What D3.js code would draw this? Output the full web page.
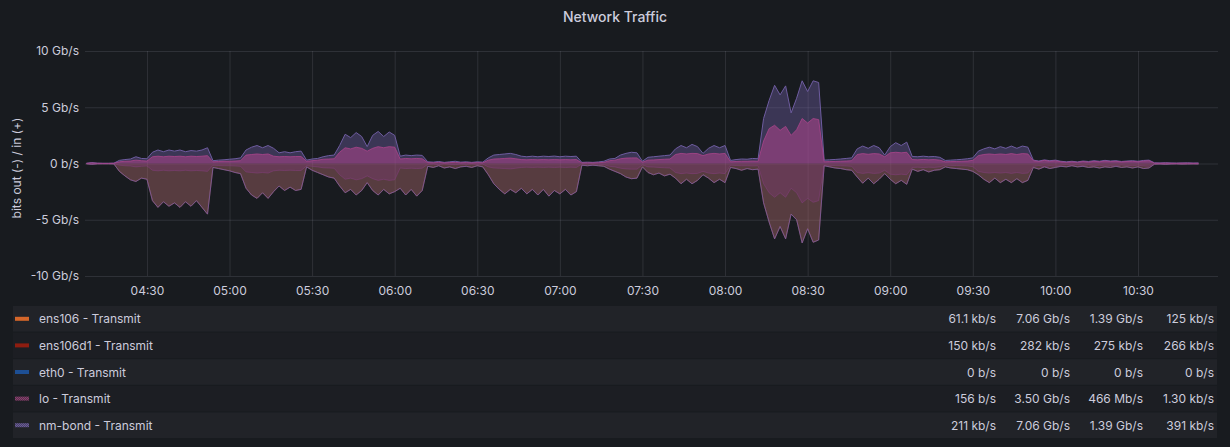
<!DOCTYPE html>
<html>
<head>
<meta charset="utf-8">
<script src="https://cdn.jsdelivr.net/npm/d3@7"></script>
<style>
  html, body { margin: 0; padding: 0; background: #181b1f; }
  svg { display: block; font-family: Inter, "Noto Sans", sans-serif; }
</style>
</head>
<body>
<svg id="chart" width="1230" height="447"></svg>
<script>
// ---- samples: Gb/s, one every 2 minutes starting 04:08 ----
const sampleStart = new Date(2024, 0, 1, 4, 8);
const sampleStepMinutes = 2;

// nm-bond receive (drawn above zero)
const nmBondRx = [
  0.02,0.08,0.03,0.02,0.02,0.03,
  0.28,0.35,0.4,0.6,0.45,0.42,
  1.0,1.2,1.05,1.2,1.1,1.2,1.05,1.15,1.1,1.2,1.4,
  0.25,0.3,0.33,0.38,0.42,0.5,
  1.2,1.45,1.6,1.4,1.6,1.35,
  0.95,1.05,0.95,1.05,1.1,
  0.3,0.4,0.45,0.6,0.7,0.75,
  1.6,2.6,2.3,2.75,2.4,
  1.5,
  2.5,2.85,2.4,2.8,2.5,
  0.65,0.75,0.7,0.75,0.72,
  0.15,0.12,0.18,0.1,0.15,0.2,0.12,0.15,0.1,0.15,0.12,
  0.5,0.75,0.8,0.85,0.9,0.8,0.65,0.6,0.65,0.6,0.65,0.62,0.66,0.6,0.65,0.62,0.65,
  0.1,0.12,0.1,0.14,0.2,
  0.4,0.45,0.75,0.9,1.0,0.95,
  0.2,
  0.55,0.6,0.65,0.7,0.75,
  1.3,1.6,1.4,1.7,1.5,
  0.9,
  1.35,1.6,1.4,1.6,
  0.27,0.35,0.4,0.38,0.45,0.42,
  4.0,5.6,6.95,6.1,6.9,4.5,5.8,7.35,6.4,7.35,7.2,
  0.3,0.33,0.36,0.4,0.45,0.5,
  1.3,1.55,1.35,1.6,1.4,
  0.75,
  1.5,1.85,1.6,1.9,
  0.62,0.6,0.65,0.6,0.62,0.55,
  0.27,0.3,0.33,0.37,0.42,0.5,
  1.1,1.3,1.45,1.3,1.5,1.35,1.55,1.35,1.55,1.45,
  0.3,0.22,0.32,0.25,0.3,0.2,0.15,0.2,0.14,0.22,0.18,0.25,0.2,0.28,0.22,0.25,0.18,0.22,0.25,0.2,0.27,0.3,
  0.06,0.05,0.07,0.05,0.04,0.05,0.06,0.04,0.05
];

// lo receive (drawn above zero)
const loRx = [
  0.01,0.05,0.02,0.01,0.01,0.02,
  0.15,0.2,0.22,0.3,0.25,0.22,
  0.6,0.65,0.6,0.65,0.62,0.65,0.6,0.65,0.62,0.65,0.7,
  0.15,0.18,0.2,0.2,0.22,0.25,
  0.75,0.8,0.85,0.8,0.85,0.65,
  0.6,0.62,0.6,0.62,0.62,
  0.2,0.25,0.3,0.38,0.4,0.42,
  1.0,1.4,1.3,1.45,1.35,
  1.1,
  1.35,1.5,1.4,1.5,1.45,
  0.4,0.45,0.42,0.45,0.42,
  0.08,0.06,0.1,0.05,0.08,0.1,0.06,0.08,0.05,0.08,0.06,
  0.3,0.4,0.42,0.45,0.48,0.42,0.35,0.33,0.35,0.33,0.35,0.33,0.35,0.33,0.35,0.33,0.35,
  0.05,0.06,0.05,0.07,0.1,
  0.25,0.3,0.42,0.48,0.5,0.5,
  0.12,
  0.3,0.32,0.35,0.38,0.4,
  0.8,0.9,0.85,0.9,0.88,
  0.7,
  0.85,0.9,0.85,0.9,
  0.15,0.18,0.2,0.2,0.22,0.2,
  2.0,3.1,3.4,2.95,3.3,2.5,3.0,4.0,3.6,4.0,3.9,
  0.15,0.17,0.18,0.2,0.22,0.25,
  0.8,0.88,0.82,0.88,0.85,
  0.6,
  0.95,1.0,0.95,1.0,
  0.35,0.33,0.36,0.33,0.35,0.3,
  0.15,0.17,0.18,0.2,0.22,0.28,
  0.7,0.8,0.85,0.8,0.85,0.8,0.88,0.8,0.88,0.85,
  0.25,0.18,0.28,0.2,0.25,0.15,0.1,0.15,0.1,0.18,0.12,0.2,0.15,0.22,0.18,0.2,0.14,0.18,0.2,0.15,0.22,0.25,
  0.03,0.02,0.04,0.02,0.02,0.03,0.03,0.02,0.02
];

// lo transmit (drawn below zero)
const loTx = [
  0.01,0.05,0.02,0.01,0.01,0.02,
  0.15,0.2,0.22,0.3,0.25,0.22,
  0.6,0.65,0.6,0.65,0.62,0.65,0.6,0.65,0.62,0.65,0.7,
  0.15,0.18,0.2,0.2,0.22,0.25,
  0.75,0.8,0.85,0.8,0.85,0.65,
  0.6,0.62,0.6,0.62,0.62,
  0.2,0.25,0.3,0.38,0.4,0.42,
  1.0,1.4,1.3,1.45,1.35,
  1.1,
  1.35,1.5,1.4,1.5,1.45,
  0.4,0.45,0.42,0.45,0.42,
  0.08,0.06,0.1,0.05,0.08,0.1,0.06,0.08,0.05,0.08,0.06,
  0.3,0.4,0.42,0.45,0.48,0.42,0.35,0.33,0.35,0.33,0.35,0.33,0.35,0.33,0.35,0.33,0.35,
  0.05,0.06,0.05,0.07,0.1,
  0.25,0.3,0.42,0.48,0.5,0.5,
  0.12,
  0.3,0.32,0.35,0.38,0.4,
  0.8,0.9,0.85,0.9,0.88,
  0.7,
  0.85,0.9,0.85,0.9,
  0.15,0.18,0.2,0.2,0.22,0.2,
  1.8,2.6,3.0,2.6,3.0,2.2,2.6,3.5,3.1,3.45,3.3,
  0.15,0.17,0.18,0.2,0.22,0.25,
  0.8,0.88,0.82,0.88,0.85,
  0.6,
  0.95,1.0,0.95,1.0,
  0.35,0.33,0.36,0.33,0.35,0.3,
  0.15,0.17,0.18,0.2,0.22,0.28,
  0.7,0.8,0.85,0.8,0.85,0.8,0.88,0.8,0.88,0.85,
  0.25,0.18,0.28,0.2,0.25,0.15,0.1,0.15,0.1,0.18,0.12,0.2,0.15,0.22,0.18,0.2,0.14,0.18,0.2,0.15,0.22,0.25,
  0.03,0.02,0.04,0.02,0.02,0.03,0.03,0.02,0.02
];

// nm-bond transmit (drawn below zero)
const nmBondTx = [
  0.03,0.08,0.03,0.03,0.03,0.04,
  0.7,1.1,1.45,1.6,1.3,1.4,
  3.3,3.9,3.4,3.8,3.5,3.9,3.4,3.8,3.3,3.9,4.5,
  0.35,0.45,0.55,0.65,0.8,0.9,
  2.2,2.8,3.1,2.6,3.1,2.5,
  2.0,2.4,2.1,2.4,2.3,
  0.3,0.6,0.8,1.0,1.2,1.3,
  2.0,2.6,2.3,2.8,2.4,
  1.7,
  2.4,2.8,2.3,2.7,2.5,
  2.2,2.8,2.3,2.9,2.4,
  0.25,0.35,0.2,0.4,0.3,0.45,0.3,0.25,0.35,0.2,0.3,
  1.0,1.8,2.3,2.7,2.3,2.6,2.2,2.7,2.3,2.8,2.3,2.9,2.4,2.7,2.3,2.8,2.5,
  0.15,0.2,0.15,0.2,0.25,
  0.5,0.7,0.9,1.2,1.35,1.3,
  0.3,
  0.8,1.0,0.85,1.1,0.95,
  1.3,1.8,1.4,1.8,1.5,
  1.0,
  1.3,1.7,1.4,1.7,
  0.35,0.45,0.6,0.45,0.55,0.5,
  3.5,5.2,6.7,5.6,6.7,4.5,5.0,7.06,5.8,7.0,6.8,
  0.2,0.3,0.4,0.45,0.55,0.6,
  1.2,1.75,1.3,1.8,1.4,
  0.9,
  1.4,1.8,1.5,1.85,
  0.5,0.7,0.55,0.75,0.6,0.55,
  0.3,0.4,0.45,0.5,0.55,0.7,
  1.0,1.4,1.7,1.3,1.7,1.4,1.7,1.35,1.7,1.5,
  0.35,0.5,0.3,0.45,0.35,0.25,0.3,0.2,0.3,0.25,0.35,0.3,0.4,0.3,0.35,0.25,0.35,0.3,0.4,0.3,0.45,0.4,
  0.06,0.05,0.08,0.05,0.04,0.06,0.05,0.04,0.05
];

// nm-bond is built on ens106, so the two transmit counters carry the same samples
const ens106Tx = nmBondTx;

// ---- axis ticks ----
const yTicks = [-10, -5, 0, 5, 10];
const xTickLabels = ["04:30","05:00","05:30","06:00","06:30","07:00","07:30","08:00","08:30","09:00","09:30","10:00","10:30"];

// ---- legend table ----
const legendNames  = ["ens106 - Transmit", "ens106d1 - Transmit", "eth0 - Transmit", "lo - Transmit", "nm-bond - Transmit"];
const legendColors = ["#d4662a", "#8e1d10", "#1d4f94", "#8a3f6e", "#6a5b98"];
const legendMin    = ["61.1 kb/s", "150 kb/s", "0 b/s", "156 b/s", "211 kb/s"];
const legendMax    = ["7.06 Gb/s", "282 kb/s", "0 b/s", "3.50 Gb/s", "7.06 Gb/s"];
const legendMean   = ["1.39 Gb/s", "275 kb/s", "0 b/s", "466 Mb/s", "1.39 Gb/s"];
const legendLast   = ["125 kb/s", "266 kb/s", "0 b/s", "1.30 kb/s", "391 kb/s"];
const legendPatterned = [false, false, false, true, true];

// ---- layout ----
const W = 1230, H = 447;
const plot = { left: 85, right: 1218, top: 51, bottom: 276 };
const textColor = "#ccccdc";

const svg = d3.select("#chart");
svg.append("rect").attr("width", W).attr("height", H).attr("fill", "#181b1f");

const day = (h, m, s = 0) => new Date(2024, 0, 1, h, m, s);
const times = nmBondRx.map((_, i) => new Date(+sampleStart + i * sampleStepMinutes * 60000));

const x = d3.scaleTime()
  .domain([day(4, 7, 30), day(10, 59, 4)])
  .range([plot.left, plot.right]);
const y = d3.scaleLinear()
  .domain([-10, 10])
  .range([plot.bottom, plot.top]);

const parseHM = d3.timeParse("%H:%M");
const xTickDates = xTickLabels.map(s => { const d = parseHM(s); return day(d.getHours(), d.getMinutes()); });

// title
svg.append("text")
  .attr("x", W / 2).attr("y", 22)
  .attr("text-anchor", "middle")
  .attr("fill", textColor)
  .attr("font-size", 14).attr("font-weight", 500)
  .text("Network Traffic");

// grid + axes
const gridColor = "rgba(204,204,220,0.13)";
const yAxis = svg.append("g")
  .attr("transform", `translate(${plot.left},0)`)
  .call(d3.axisLeft(y)
    .tickValues(yTicks)
    .tickSize(-(plot.right - plot.left))
    .tickPadding(6)
    .tickFormat(v => v === 0 ? "0 b/s" : `${v} Gb/s`));
yAxis.select(".domain").remove();
yAxis.selectAll("line").attr("stroke", gridColor);
yAxis.selectAll("text").attr("fill", textColor).attr("font-size", 12).attr("font-family", "Inter, 'Noto Sans', sans-serif");

const xAxis = svg.append("g")
  .attr("transform", `translate(0,${plot.bottom})`)
  .call(d3.axisBottom(x)
    .tickValues(xTickDates)
    .tickSize(-(plot.bottom - plot.top))
    .tickPadding(10)
    .tickFormat(d3.timeFormat("%H:%M")));
xAxis.select(".domain").remove();
xAxis.selectAll("line").attr("stroke", gridColor);
xAxis.selectAll("text").attr("fill", textColor).attr("font-size", 12).attr("font-family", "Inter, 'Noto Sans', sans-serif");

// y axis title
svg.append("text")
  .attr("transform", "translate(16,168) rotate(-90)")
  .attr("text-anchor", "middle")
  .attr("dominant-baseline", "central")
  .attr("fill", textColor)
  .attr("font-size", 12)
  .text("bits out (-) / in (+)");

// ---- series ----
const plotArea = svg.append("g");
const areaUp = d3.area().x((d, i) => x(times[i])).y0(y(0)).y1(d => y(d));
const areaDown = d3.area().x((d, i) => x(times[i])).y0(y(0)).y1(d => y(-d));
const lineUp = d3.line().x((d, i) => x(times[i])).y(d => y(d));
const lineDown = d3.line().x((d, i) => x(times[i])).y(d => y(-d));

const layers = [
  { data: ens106Tx, dir: "down", color: "#e07a3c", fillOpacity: 0.28, lineOpacity: 0.35 },
  { data: nmBondTx, dir: "down", color: "#7a5aa6", fillOpacity: 0.2,  lineOpacity: 0.8 },
  { data: nmBondRx, dir: "up",   color: "#6e5ca0", fillOpacity: 0.42, lineOpacity: 1 },
  { data: loTx,     dir: "down", color: "#8a3d86", fillOpacity: 0.3,  lineOpacity: 0.45 },
  { data: loRx,     dir: "up",   color: "#b0458e", fillOpacity: 0.55, lineOpacity: 0.75 }
];

layers.forEach(l => {
  plotArea.append("path")
    .attr("d", (l.dir === "up" ? areaUp : areaDown)(l.data))
    .attr("fill", l.color)
    .attr("fill-opacity", l.fillOpacity);
});
layers.forEach(l => {
  plotArea.append("path")
    .attr("d", (l.dir === "up" ? lineUp : lineDown)(l.data))
    .attr("fill", "none")
    .attr("stroke", l.color)
    .attr("stroke-opacity", l.lineOpacity)
    .attr("stroke-width", 1);
});

// ---- legend ----
const defs = svg.append("defs");
legendColors.forEach((c, i) => {
  if (!legendPatterned[i]) return;
  const p = defs.append("pattern")
    .attr("id", `dots${i}`)
    .attr("width", 2).attr("height", 2)
    .attr("patternUnits", "userSpaceOnUse");
  p.append("rect").attr("width", 2).attr("height", 2).attr("fill", c).attr("opacity", 0.55);
  p.append("rect").attr("width", 1).attr("height", 1).attr("fill", c);
  p.append("rect").attr("x", 1).attr("y", 1).attr("width", 1).attr("height", 1).attr("fill", c);
});

const rowTop = 306, rowH = 26.6, rowGap = 1;
const valueRight = [996, 1070, 1143, 1214];
const legend = svg.append("g");
legendNames.forEach((name, i) => {
  const y0 = rowTop + i * rowH;
  const cy = y0 + (rowH - rowGap) / 2;
  legend.append("rect")
    .attr("x", 13).attr("y", y0)
    .attr("width", 1204).attr("height", rowH - rowGap)
    .attr("fill", i % 2 === 0 ? "#212328" : "#1c1e23");
  legend.append("rect")
    .attr("x", 15).attr("y", cy - 2)
    .attr("width", 14).attr("height", 4)
    .attr("fill", legendPatterned[i] ? `url(#dots${i})` : legendColors[i]);
  legend.append("text")
    .attr("x", 39).attr("y", cy)
    .attr("dominant-baseline", "central")
    .attr("fill", textColor).attr("font-size", 12)
    .text(name);
  [legendMin[i], legendMax[i], legendMean[i], legendLast[i]].forEach((v, j) => {
    legend.append("text")
      .attr("x", valueRight[j]).attr("y", cy)
      .attr("text-anchor", "end")
      .attr("dominant-baseline", "central")
      .attr("fill", textColor).attr("font-size", 12)
      .text(v);
  });
});
</script>
</body>
</html>
